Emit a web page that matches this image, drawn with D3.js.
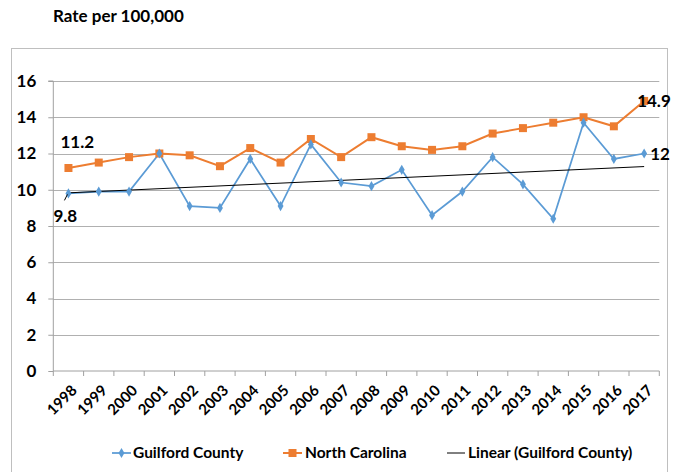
<!DOCTYPE html>
<html><head><meta charset="utf-8">
<script src="https://cdn.jsdelivr.net/npm/d3@7"></script>
<style>body{margin:0;background:#fff;} text{font-family:Lato,"Open Sans",sans-serif;font-weight:bold;fill:#000;}</style>
</head><body>
<svg id="c" width="675" height="472"></svg>
<script>
const years = ["1998","1999","2000","2001","2002","2003","2004","2005","2006","2007","2008","2009","2010","2011","2012","2013","2014","2015","2016","2017"];
const guilford = [9.8,9.9,9.9,12.0,9.1,9.0,11.7,9.1,12.5,10.4,10.2,11.1,8.6,9.9,11.8,10.3,8.4,13.7,11.7,12.0];
const northCarolina = [11.2,11.5,11.8,12.0,11.9,11.3,12.3,11.5,12.8,11.8,12.9,12.4,12.2,12.4,13.1,13.4,13.7,14.0,13.5,14.9];
const yTicks = [0,2,4,6,8,10,12,14,16];
const seriesNames = ["Guilford County","North Carolina","Linear (Guilford County)"];
const blue = "#5b9bd5", orange = "#ed7d31";

const svg = d3.select("#c");
const L = 53.3, R = 659.3, T = 81, B = 371;
const x = d3.scaleBand().domain(years).range([L, R]);
const xc = d => x(d) + x.bandwidth()/2;
const y = d3.scaleLinear().domain([0,16]).range([B, T]);

// outer border
svg.append("rect").attr("x",11.5).attr("y",48.5).attr("width",656).attr("height",440)
  .attr("fill","none").attr("stroke","#bfbfbf").attr("stroke-width",1);

svg.append("text").attr("x",53).attr("y",22).attr("font-size",17).text("Rate per 100,000");

// gridlines
svg.append("g").selectAll("line").data(yTicks.filter(d=>d>0)).join("line")
  .attr("x1",L).attr("x2",R).attr("y1",d=>Math.round(y(d))+0.5).attr("y2",d=>Math.round(y(d))+0.5)
  .attr("stroke","#b0b0b0").attr("stroke-width",1);

// y axis
const ya = svg.append("g").attr("transform",`translate(${L},0)`)
  .call(d3.axisLeft(y).tickValues(yTicks).tickSize(5).tickPadding(12));
ya.select(".domain").attr("stroke","#a0a0a0").attr("d",`M-5,${T}H0V${B}`);
ya.selectAll(".tick line").attr("stroke","#a0a0a0");
ya.selectAll(".tick text").attr("font-size",17).attr("font-family","Lato").attr("font-weight","bold").attr("fill","#000");

// x axis
const xa = svg.append("g").attr("transform",`translate(0,${B})`)
  .call(d3.axisBottom(x).tickSize(0).tickFormat(""));
xa.select(".domain").attr("stroke","#a0a0a0").attr("d",`M${L},0H${R}`);
const tickPos = years.map(d=>x(d)).concat([R]);
svg.append("g").selectAll("line").data(tickPos).join("line")
  .attr("x1",d=>d).attr("x2",d=>d).attr("y1",B).attr("y2",B+5).attr("stroke","#a0a0a0");
svg.append("g").selectAll("text").data(years).join("text")
  .attr("transform",d=>`translate(${xc(d)+2},${B+13}) rotate(-45)`)
  .attr("text-anchor","end").attr("dy","0.7em").attr("font-size",15).text(d=>d);

// trendline (least squares on Guilford)
const n = guilford.length, idx = d3.range(n);
const mx = d3.mean(idx), my = d3.mean(guilford);
const slope = d3.sum(idx,i=>(i-mx)*(guilford[i]-my))/d3.sum(idx,i=>(i-mx)**2);
const icpt = my - slope*mx;
const line = d3.line().x(d=>d[0]).y(d=>d[1]);

// series lines
svg.append("path").attr("d",line(years.map((d,i)=>[xc(d),y(northCarolina[i])])))
  .attr("fill","none").attr("stroke",orange).attr("stroke-width",2);
svg.append("path").attr("d",line(years.map((d,i)=>[xc(d),y(guilford[i])])))
  .attr("fill","none").attr("stroke",blue).attr("stroke-width",1.75);
svg.append("path").attr("d",line([[xc(years[0]),y(icpt)],[xc(years[n-1]),y(icpt+slope*(n-1))]]))
  .attr("fill","none").attr("stroke","#000").attr("stroke-width",1);

// markers
svg.append("g").selectAll("rect").data(northCarolina).join("rect")
  .attr("x",(d,i)=>xc(years[i])-4).attr("y",d=>y(d)-4).attr("width",8).attr("height",8).attr("fill",orange);
const diamond = d3.symbol().type(d3.symbolDiamond).size(30);
svg.append("g").selectAll("path").data(guilford).join("path")
  .attr("transform",(d,i)=>`translate(${xc(years[i])},${y(d)})`).attr("d",diamond).attr("fill",blue);

// data labels
const lab = (t,xx,yy)=>svg.append("text").attr("x",xx).attr("y",yy).attr("font-size",17).text(t);
lab(String(northCarolina[0].toFixed(1)), xc(years[0])-8, y(northCarolina[0])-20);
lab(String(guilford[0].toFixed(1)), xc(years[0])-15, y(guilford[0])+29);
svg.append("line").attr("x1",xc(years[0])-4).attr("y1",y(guilford[0])+7).attr("x2",xc(years[0])-1).attr("y2",y(guilford[0])+1).attr("stroke","#000");
lab(String(northCarolina[n-1].toFixed(1)), xc(years[n-1])-7, y(northCarolina[n-1])+6);
lab(String(guilford[n-1]), xc(years[n-1])+6, y(guilford[n-1])+6);

// legend
const ly = 453;
const lg = svg.append("g");
lg.append("line").attr("x1",112).attr("x2",131).attr("y1",ly).attr("y2",ly).attr("stroke",blue).attr("stroke-width",1.75);
lg.append("path").attr("transform",`translate(121.5,${ly})`).attr("d",diamond).attr("fill",blue);
lg.append("text").attr("x",133).attr("y",ly+5).attr("font-size",15.5).text(seriesNames[0]);
lg.append("line").attr("x1",283).attr("x2",302).attr("y1",ly).attr("y2",ly).attr("stroke",orange).attr("stroke-width",2);
lg.append("rect").attr("x",288.5).attr("y",ly-4).attr("width",8).attr("height",8).attr("fill",orange);
lg.append("text").attr("x",305).attr("y",ly+5).attr("font-size",15.5).text(seriesNames[1]);
lg.append("line").attr("x1",447).attr("x2",465).attr("y1",ly).attr("y2",ly).attr("stroke","#000").attr("stroke-width",1);
lg.append("text").attr("x",468).attr("y",ly+5).attr("font-size",15.5).text(seriesNames[2]);
</script>
</body></html>
